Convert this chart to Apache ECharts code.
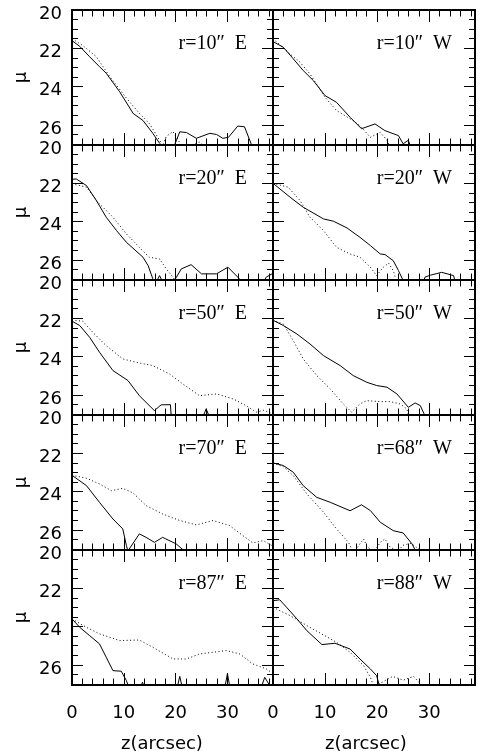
<!DOCTYPE html>
<html>
<head>
<meta charset="utf-8">
<script src="https://cdn.jsdelivr.net/npm/echarts@6/dist/echarts.min.js"></script>
<style>
html, body { margin: 0; padding: 0; background: #fff; }
#chart { width: 478px; height: 751px; }
</style>
</head>
<body>
<div id="chart"></div>
<script>
// axis ranges
var X_MIN = 0, X_MAX = 38.8;
var Y_MIN = 20, Y_MAX = 27.05;

// panel captions (rows top to bottom)
var labelsE = ['r=10″  E', 'r=20″  E', 'r=50″  E', 'r=70″  E', 'r=87″  E'];
var labelsW = ['r=10″  W', 'r=20″  W', 'r=50″  W', 'r=68″  W', 'r=88″  W'];

// profiles, [z(arcsec), mu]
var e10Solid = [[0,21.6],[1.5,21.9],[3.4,22.44],[5.3,22.96],[6.6,23.3],[9.2,24.27],[11.8,25.4],[13.7,25.77],[15.6,26.44],[16.9,26.96],[18.2,27.3],[19.6,27.2],[20.8,26.36],[22.1,26.4],[24,26.7],[26.6,26.44],[27.9,26.5],[29.1,26.7],[30.2,26.65],[32,26.06],[33.3,26.1],[34.6,27],[35.5,27.4]];
var e10Dotted = [[0,21.5],[2.1,21.86],[4.7,22.44],[7.3,23.48],[10.5,24.6],[13,25.4],[15,25.95],[16.9,26.8],[17.5,27.1],[18.2,26.6],[19.5,26.35],[20.5,26.8],[21.5,27.2],[24.6,26.9],[26,27.2]];
var w10Solid = [[0,21.65],[2,21.95],[3.9,22.55],[5.8,23.16],[7.8,23.7],[10,24.47],[12.2,24.82],[14.8,25.6],[17,26.2],[19.6,25.95],[21.5,26.3],[24.1,26.56],[25,26.99],[26,26.8],[26.6,27.3]];
var w10Dotted = [[0,21.5],[3.3,22.3],[5.2,22.73],[7.1,23.34],[10,24.56],[12.2,25.25],[15.4,25.78],[16.7,26.04],[18.7,26.65],[20.6,26.39],[21.9,26.8],[22.5,27.2]];

var e20Solid = [[0,21.8],[0.8,21.77],[2.8,22.12],[4.7,22.9],[6.6,23.77],[8.6,24.47],[10.5,25.08],[13.7,25.86],[14.7,26.3],[15.6,26.99],[16.2,27.2],[16.9,26.82],[17.6,27.2],[19.5,27.2],[21.1,26.47],[23,26.25],[25,26.73],[27.9,26.73],[30.1,26.38],[32,26.9],[33,27.2],[36.8,27.2],[37.5,26.9],[38.8,26.7]];
var e20Dotted = [[0,22.03],[2.8,22.2],[5,22.99],[7.9,23.77],[10.5,24.64],[13,25.34],[14.9,25.86],[16.9,25.95],[18.2,26.47],[19.5,26.9],[20.2,27.2]];
var w20Solid = [[0,22],[3.3,22.73],[5.8,23.25],[9.7,23.86],[11.6,23.98],[14.2,24.33],[16.7,24.82],[18.7,25.25],[20.6,25.69],[21.5,25.72],[23.1,26.04],[24.1,26.56],[25,27.08],[25.5,27.3],[28.8,27.2],[29.2,26.9],[30.2,26.8],[32.4,26.65],[34.7,26.82],[35,27.2]];
var w20Dotted = [[0,22],[2.9,22.2],[5.2,22.9],[7.1,23.77],[9.7,24.47],[12.2,25.34],[14.8,25.69],[16.7,25.86],[18.7,26.38],[19.9,26.82],[21.2,26.38],[22.2,26.17],[23.1,26.56],[23.7,27.1]];

var e50Solid = [[0,22.15],[1.5,22.38],[3.4,22.99],[5.3,23.77],[7.9,24.73],[10.8,25.25],[13,26.04],[15.9,26.82],[17.2,26.52],[19,26.51],[19.2,27.3],[25.2,27.2],[25.9,26.73],[26.6,27.2]];
var e50Dotted = [[0,22.1],[2.1,22.15],[4,22.73],[6.6,23.43],[9.8,24.12],[12.4,24.3],[15.6,24.47],[18.8,24.9],[21.4,25.43],[24.6,26.04],[27.9,25.95],[31.1,26.21],[33.6,26.56],[35.6,26.9],[37,26.8],[38.8,27]];
var w50Solid = [[0,22.1],[2,22.38],[4.6,22.82],[7.1,23.34],[9.7,23.95],[12.9,24.47],[15.4,24.99],[18,25.34],[19.9,25.51],[21.9,25.6],[23.8,25.95],[26,26.65],[27.3,26.42],[28.3,26.56],[29.2,27.1],[29.5,27.3]];
var w50Dotted = [[0,22.1],[2,22.3],[3.9,23.17],[5.8,24.12],[8.4,24.99],[11,25.69],[13.5,26.47],[15.1,26.9],[16.7,26.47],[18,26.3],[20.6,26.35],[22.5,26.35],[24.4,26.47],[25.7,26.73],[26.2,27.2]];

var e70Solid = [[0,23.15],[2.8,23.69],[5.3,24.56],[7.9,25.43],[9.8,25.95],[10.5,26.82],[10.8,27.1],[13,26.21],[14.3,26.39],[15.9,26.65],[17.5,26.39],[18.1,26.47],[20.1,26.73],[21.7,27.1],[22.5,27.3]];
var e70Dotted = [[0,23.15],[2.8,23.3],[5.3,23.6],[7.6,23.95],[9.8,23.83],[11.8,24.07],[14.3,24.73],[17.5,25.17],[20.8,25.51],[24,25.74],[27.2,25.51],[30.4,25.77],[33,26.3],[34.9,26.68],[36.9,26.56],[38.8,26.85]];
var w68Solid = [[0,22.5],[2,22.64],[3.9,22.99],[5.8,23.69],[8.4,24.3],[11,24.56],[14.8,25],[17,24.69],[18.7,24.99],[20.6,25.6],[23.1,26.04],[25,26.16],[26.7,26.73],[27.3,27.05],[28,27.3]];
var w68Dotted = [[0,22.5],[2,22.7],[3.9,23.17],[6.5,24.12],[9.7,25.08],[12.2,25.95],[14.5,26.65],[15.5,27.2],[16.5,26.8],[17.4,26.47],[18.1,26.9],[19.5,27.1],[20.6,26.65],[21.5,26.47],[22.5,26.9],[24,27.1],[25,26.8],[26.5,26.7],[28,27],[29,27.2]];

var e87Solid = [[0,23.6],[1.5,24.04],[3.4,24.47],[5.3,24.9],[6.6,25.6],[7.9,26.3],[9.5,26.33],[10.5,26.82],[11,27.2],[13.2,27.2],[13.6,26.9],[14,27.2],[20.3,27.2],[20.8,26.6],[21.3,27.2],[29.5,27.2],[30,26.45],[30.5,27.2],[36.5,27.2],[37.2,26.65],[38,27],[38.8,27.2]];
var e87Dotted = [[0,23.6],[2.8,24.04],[5.3,24.38],[9.2,24.73],[13,24.7],[15.6,25.08],[19.5,25.69],[22.1,25.69],[24.6,25.43],[29.8,25.25],[32.4,25.43],[34.9,25.95],[37.5,26.21],[38.8,26.45]];
var w88Solid = [[0,22.65],[1.3,22.6],[2.6,22.99],[4.6,23.6],[6.5,24.21],[9.4,24.94],[11.9,24.87],[14.8,25.17],[16.7,25.69],[18.7,26.21],[19.9,26.56],[20.4,27.05],[21,27.3]];
var w88Dotted = [[0,22.99],[3.3,23.43],[7.1,24.04],[12.2,24.82],[14.8,25.34],[17.4,26.04],[18.7,26.65],[19.3,27.1],[21,26.9],[23,26.6],[25,26.8],[27,26.6],[28,26.9],[29,27.2]];

var solidE = [e10Solid, e20Solid, e50Solid, e70Solid, e87Solid];
var dottedE = [e10Dotted, e20Dotted, e50Dotted, e70Dotted, e87Dotted];
var solidW = [w10Solid, w20Solid, w50Solid, w68Solid, w88Solid];
var dottedW = [w10Dotted, w20Dotted, w50Dotted, w68Dotted, w88Dotted];

var FONT = 'DejaVu Sans';

function buildOption() {
    var grids = [], xAxes = [], yAxes = [], series = [], graphics = [];

    function addX(g, pos, step, len, labels) {
        xAxes.push({
            gridIndex: g, type: 'value', position: pos,
            min: X_MIN, max: X_MAX, interval: step,
            axisLine: { show: step === 10, onZero: false, lineStyle: { color: '#000', width: 2 } },
            axisTick: { show: true, inside: true, length: len, lineStyle: { color: '#000', width: 1 } },
            axisLabel: { show: labels, showMaxLabel: false, margin: 19, color: '#000', fontFamily: FONT, fontSize: 18 },
            splitLine: { show: false }
        });
    }

    function addY(g, pos, step, len, labels, withName) {
        yAxes.push({
            gridIndex: g, type: 'value', position: pos, inverse: true,
            min: Y_MIN, max: Y_MAX, interval: step,
            name: withName ? 'μ' : '', nameLocation: 'middle', nameGap: 42, nameRotate: 90,
            nameTextStyle: { color: '#000', fontFamily: FONT, fontSize: 18 },
            axisLine: { show: step === 2, onZero: false, lineStyle: { color: '#000', width: 2 } },
            axisTick: { show: true, inside: true, length: len, lineStyle: { color: '#000', width: 1 } },
            // labels sit a little below their ticks, as in the original
            axisLabel: { show: labels, showMaxLabel: false, margin: 10, verticalAlign: 'top', lineHeight: 8, color: '#000', fontFamily: FONT, fontSize: 18 },
            splitLine: { show: false }
        });
    }

    for (var row = 0; row < 5; row++) {
        for (var col = 0; col < 2; col++) {
            var g = grids.length;
            var gLeft = col === 0 ? 72 : 273;
            var gWidth = col === 0 ? 201 : 202;
            var gTop = 10 + row * 135;
            grids.push({ left: gLeft, top: gTop, width: gWidth, height: 135 });

            addX(g, 'bottom', 10, 12, row === 4);
            addX(g, 'bottom', 2, 6.5, false);
            addX(g, 'top', 10, 12, false);
            addX(g, 'top', 2, 6.5, false);

            addY(g, 'left', 2, 11, col === 0, col === 0);
            addY(g, 'left', 0.5, 6, false, false);
            addY(g, 'right', 2, 11, false, false);
            addY(g, 'right', 0.5, 6, false, false);

            series.push({
                type: 'line', xAxisIndex: 4 * g, yAxisIndex: 4 * g,
                data: col === 0 ? solidE[row] : solidW[row],
                symbol: 'none', silent: true,
                lineStyle: { color: '#000', width: 1, type: 'solid' }
            });
            series.push({
                type: 'line', xAxisIndex: 4 * g, yAxisIndex: 4 * g,
                data: col === 0 ? dottedE[row] : dottedW[row],
                symbol: 'none', silent: true,
                lineStyle: { color: '#000', width: 1, type: [1, 2.5] }
            });

            graphics.push({
                type: 'text', x: gLeft + gWidth - (col === 0 ? 26 : 23), y: gTop + 34,
                style: {
                    text: col === 0 ? labelsE[row] : labelsW[row],
                    align: 'right', verticalAlign: 'middle',
                    font: '20px "Liberation Serif"', fill: '#000'
                }
            });
        }
    }

    // x axis titles
    graphics.push({ type: 'text', x: 162, y: 744, style: { text: 'z(arcsec)', align: 'center', verticalAlign: 'middle', font: '18px "DejaVu Sans"', fill: '#000' } });
    graphics.push({ type: 'text', x: 366, y: 744, style: { text: 'z(arcsec)', align: 'center', verticalAlign: 'middle', font: '18px "DejaVu Sans"', fill: '#000' } });

    return {
        animation: false,
        backgroundColor: '#fff',
        grid: grids,
        xAxis: xAxes,
        yAxis: yAxes,
        series: series,
        graphic: graphics
    };
}

var myChart = echarts.init(document.getElementById('chart'));
myChart.setOption(buildOption());
</script>
</body>
</html>
